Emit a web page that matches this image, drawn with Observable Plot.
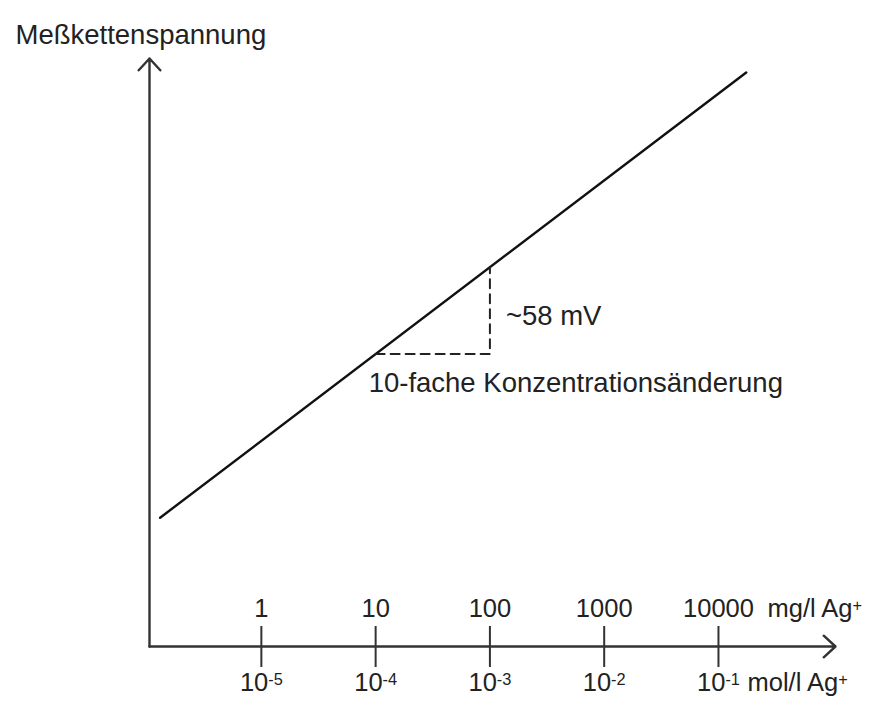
<!DOCTYPE html>
<html><head><meta charset="utf-8">
<script src="https://cdn.jsdelivr.net/npm/d3@7"></script>
<script src="https://cdn.jsdelivr.net/npm/@observablehq/plot@0.6"></script>
<style>body{margin:0;background:#fff} svg{display:block}</style>
</head><body><div id="chart"></div>
<script>
// concentration ticks (mg/l Ag+) and their labels
const mgTicks = [1, 10, 100, 1000, 10000];
const mgLabels = ["1", "10", "100", "1000", "10000"];
const molLabels = ["10⁻⁵", "10⁻⁴", "10⁻³", "10⁻²", "10⁻¹"];
// electrode response line (mg/l, mV)
const lineConc = [0.13, 17500];
const lineMv = [-51.4, 246.1];
// 10-fold step triangle (mg/l, mV)
const stepConc = [10, 100, 100];
const stepMv = [58, 58, 116];
// axis extents
const xDomain = [0.105, 105700];
const yDomain = [-137.4, 255.4];

const font = "'Liberation Sans', Arial, Helvetica, sans-serif";
const ink = "#222";

const lineData = lineConc.map((c, i) => ({c, mv: lineMv[i]}));
const stepData = stepConc.map((c, i) => ({c, mv: stepMv[i]}));
const axes = [
  {x1: xDomain[0], y1: yDomain[0], x2: xDomain[0], y2: yDomain[1]},
  {x1: xDomain[0], y1: yDomain[0], x2: xDomain[1], y2: yDomain[0]}
];
const tickData = mgTicks.map((c, i) => ({c, mg: mgLabels[i], mol: molLabels[i]}));
const lastTick = mgTicks[mgTicks.length - 1];

const chart = Plot.plot({
  width: 884,
  height: 702,
  marginLeft: 149,
  marginRight: 49,
  marginTop: 58,
  marginBottom: 56,
  style: {fontFamily: font, background: "#fff"},
  x: {type: "log", domain: xDomain, axis: null},
  y: {domain: yDomain, axis: null},
  marks: [
    Plot.arrow(axes, {x1: "x1", y1: "y1", x2: "x2", y2: "y2", stroke: "#333", strokeWidth: 2.4, headLength: 10, headAngle: 85}),
    Plot.tickX(tickData, {x: "c", stroke: "#333", strokeWidth: 2, insetTop: 702 - 58 - 56 - 20, insetBottom: -21}),
    Plot.text(tickData, {x: "c", text: "mg", frameAnchor: "bottom", dy: -30, lineAnchor: "bottom", fontSize: 25.5, fill: ink}),
    Plot.text(tickData, {x: "c", text: "mol", frameAnchor: "bottom", dy: 44, lineAnchor: "bottom", fontSize: 25.5, fill: ink}),
    Plot.text([{c: lastTick, t: "mg/l Ag⁺"}], {x: "c", text: "t", frameAnchor: "bottom", dx: 49, dy: -30, lineAnchor: "bottom", textAnchor: "start", fontSize: 25.5, fill: ink}),
    Plot.text([{c: lastTick, t: "mol/l Ag⁺"}], {x: "c", text: "t", frameAnchor: "bottom", dx: 29, dy: 44, lineAnchor: "bottom", textAnchor: "start", fontSize: 25.5, fill: ink}),
    Plot.line(lineData, {x: "c", y: "mv", stroke: "#111", strokeWidth: 2.4}),
    Plot.line(stepData, {x: "c", y: "mv", stroke: "#222", strokeWidth: 2, strokeDasharray: "9,6"}),
    Plot.text([{c: stepConc[2], mv: (stepMv[1] + stepMv[2]) / 2, t: "~58 mV"}], {x: "c", y: "mv", text: "t", dx: 16, dy: 6, textAnchor: "start", fontSize: 27.5, fill: ink}),
    Plot.text([{c: stepConc[0], mv: stepMv[0], t: "10-fache Konzentrationsänderung"}], {x: "c", y: "mv", text: "t", dx: -7, dy: 29, textAnchor: "start", fontSize: 27.5, fill: ink}),
    Plot.text(["Meßkettenspannung"], {frameAnchor: "top-left", dx: -134, dy: -34, textAnchor: "start", fontSize: 27.5, fill: ink})
  ]
});

// render Unicode superscripts as raised, larger tspans
const supMap = {"⁻": "-", "⁺": "+", "⁰": "0", "¹": "1", "²": "2", "³": "3", "⁴": "4", "⁵": "5", "⁶": "6", "⁷": "7", "⁸": "8", "⁹": "9"};
d3.select(chart).selectAll("text, tspan").each(function () {
  if (this.children.length) return;
  const s = this.textContent;
  if (!/[⁻⁺⁰¹²³⁴⁵⁶⁷⁸⁹]/.test(s)) return;
  const parts = [];
  for (const ch of s) {
    const sup = ch in supMap;
    const last = parts[parts.length - 1];
    if (last && last.sup === sup) last.t += sup ? supMap[ch] : ch;
    else parts.push({sup, t: sup ? supMap[ch] : ch});
  }
  const el = d3.select(this);
  el.text(null);
  for (const p of parts) {
    const ts = el.append("tspan").text(p.t);
    if (p.sup) ts.attr("font-size", "0.64em").attr("baseline-shift", "40%");
  }
});
document.getElementById("chart").appendChild(chart);
</script>
</body></html>
